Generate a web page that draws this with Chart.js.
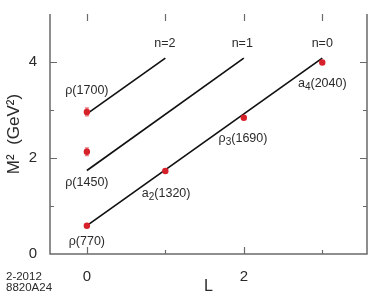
<!DOCTYPE html>
<html>
<head>
<meta charset="utf-8">
<script src="https://cdn.jsdelivr.net/npm/chart.js@4/dist/chart.umd.min.js"></script>
<style>
html,body{margin:0;padding:0;background:#fff;}
#wrap{width:371px;height:299px;position:relative;}
</style>
</head>
<body>
<div id="wrap"><canvas id="c" width="371" height="299"></canvas></div>
<script>
// ---- data ----
const stateBase = ['ρ', 'ρ', 'ρ', 'a', 'ρ', 'a'];
const stateSub = ['', '', '', '2', '3', '4'];
const stateMass = ['(770)', '(1450)', '(1700)', '(1320)', '(1690)', '(2040)'];
const stateL = [0, 0, 0, 1, 2, 3];
const stateM2 = [0.59, 2.13, 2.96, 1.73, 2.84, 3.99];
const stateErr = [0.02, 0.08, 0.08, 0.02, 0.02, 0.02];
// label anchors (data coordinates)
const stateLabelL = [0, 0, 0, 1.01, 1.99, 3.0];
const stateLabelM2 = [0.26, 1.48, 3.40, 1.25, 2.41, 3.55];

const trajNames = ['n=0', 'n=1', 'n=2'];
const trajStartL = [0, 0, 0];
const trajStartM2 = [0.59, 1.74, 2.92];
const trajEndL = [3, 2, 1];
const trajEndM2 = [4.08, 4.08, 4.08];
const trajLabelL = [3.0, 1.98, 0.995];
const trajLabelM2 = 4.38;

const xTicks = [0, 1, 2, 3];
const yTicks = [0, 1, 2, 3, 4];
const xLabelTicks = [0, 2];
const yLabelTicks = [0, 2, 4];

const noteLines = ['2-2012', '8820A24'];

// ---- chart ----
const RED = 'rgb(214,32,42)';
const AXIS = '#6a6a6a';
const TXT = '#2a2a2a';
const FONT = '"Liberation Sans", Arial, Helvetica, sans-serif';

const datasets = [];
for (let i = 0; i < trajNames.length; i++) {
  datasets.push({
    type: 'line',
    label: trajNames[i],
    data: [{x: trajStartL[i], y: trajStartM2[i]}, {x: trajEndL[i], y: trajEndM2[i]}],
    borderColor: '#111',
    borderWidth: 1.7,
    pointRadius: 0,
    fill: false,
    order: 2
  });
}
datasets.push({
  type: 'scatter',
  label: 'states',
  data: stateL.map((l, i) => ({x: l, y: stateM2[i], err: stateErr[i]})),
  backgroundColor: RED,
  borderColor: RED,
  pointRadius: 3.2,
  pointBorderWidth: 0,
  order: 1
});

const errorBars = {
  id: 'errorBars',
  beforeDatasetDraw(chart, args) {
    if (args.index !== 3) return;
    const ctx = chart.ctx, xs = chart.scales.x, ys = chart.scales.y;
    ctx.save();
    ctx.strokeStyle = 'rgba(230,110,115,0.9)';
    ctx.lineWidth = 1.5;
    stateL.forEach((l, i) => {
      const px = xs.getPixelForValue(l);
      const y1 = ys.getPixelForValue(stateM2[i] - stateErr[i]);
      const y2 = ys.getPixelForValue(stateM2[i] + stateErr[i]);
      ctx.beginPath(); ctx.moveTo(px, y1); ctx.lineTo(px, y2); ctx.stroke();
      ctx.beginPath(); ctx.moveTo(px - 2, y1); ctx.lineTo(px + 2, y1);
      ctx.moveTo(px - 2, y2); ctx.lineTo(px + 2, y2); ctx.stroke();
    });
    ctx.restore();
  }
};

const frame = {
  id: 'frame',
  afterDraw(chart) {
    const ctx = chart.ctx, a = chart.chartArea, xs = chart.scales.x, ys = chart.scales.y;
    ctx.save();
    ctx.strokeStyle = AXIS;
    ctx.lineWidth = 1.5;
    ctx.beginPath();
    ctx.moveTo(a.left, a.top); ctx.lineTo(a.left, a.bottom); ctx.lineTo(a.right, a.bottom); ctx.lineTo(a.right, a.top);
    ctx.stroke();
    ctx.lineWidth = 1.2;
    ctx.beginPath();
    xTicks.forEach(v => {
      const px = Math.round(xs.getPixelForValue(v)) + 0.5;
      const len = xLabelTicks.includes(v) ? 7 : 4;
      ctx.moveTo(px, a.bottom); ctx.lineTo(px, a.bottom - len);
      ctx.moveTo(px, a.top); ctx.lineTo(px, a.top + 7);
    });
    yTicks.forEach(v => {
      if (v === 0) return;
      const py = Math.round(ys.getPixelForValue(v)) + 0.5;
      const len = yLabelTicks.includes(v) ? 7 : 4;
      ctx.moveTo(a.left, py); ctx.lineTo(a.left + len, py);
      ctx.moveTo(a.right, py); ctx.lineTo(a.right - len, py);
    });
    ctx.stroke();

    // labels
    ctx.fillStyle = TXT;
    ctx.textBaseline = 'middle';
    const fs = 12.5;
    function drawLabel(base, sub, rest, cx, cy) {
      ctx.font = fs + 'px ' + FONT;
      const wb = ctx.measureText(base).width;
      const wr = ctx.measureText(rest).width;
      ctx.font = (fs * 0.8) + 'px ' + FONT;
      const ws = sub ? ctx.measureText(sub).width : 0;
      let x = cx - (wb + ws + wr) / 2;
      ctx.textAlign = 'left';
      ctx.font = fs + 'px ' + FONT;
      ctx.fillText(base, x, cy); x += wb;
      if (sub) {
        ctx.font = (fs * 0.8) + 'px ' + FONT;
        ctx.fillText(sub, x, cy + 3.5); x += ws;
        ctx.font = fs + 'px ' + FONT;
      }
      ctx.fillText(rest, x, cy);
    }
    stateL.forEach((l, i) => {
      drawLabel(stateBase[i], stateSub[i], stateMass[i],
        xs.getPixelForValue(stateLabelL[i]), ys.getPixelForValue(stateLabelM2[i]));
    });
    trajNames.forEach((n, i) => {
      drawLabel(n, '', '', xs.getPixelForValue(trajLabelL[i]), ys.getPixelForValue(trajLabelM2));
    });
    // note
    ctx.font = '11.5px ' + FONT;
    ctx.textAlign = 'left';
    ctx.fillText(noteLines[0], 6, 277);
    ctx.fillText(noteLines[1], 6, 288);
    ctx.restore();
  }
};

new Chart(document.getElementById('c'), {
  data: {datasets},
  options: {
    responsive: false,
    animation: false,
    layout: {padding: {left: 0, right: 2, top: 0, bottom: 0}},
    plugins: {legend: {display: false}, tooltip: {enabled: false}},
    scales: {
      x: {
        type: 'linear',
        min: -0.47, max: 3.57,
        grid: {display: false},
        border: {display: false},
        afterBuildTicks(s) { s.ticks = xTicks.map(v => ({value: v})); },
        afterFit(s) { s.height = 45; },
        ticks: {
          autoSkip: false, maxRotation: 0, padding: 6,
          color: TXT, font: {family: FONT, size: 15},
          callback: v => xLabelTicks.includes(v) ? String(v) : ''
        },
        title: {display: true, text: 'L', color: TXT, font: {family: FONT, size: 16}, padding: {top: 0, bottom: 3}}
      },
      y: {
        type: 'linear',
        min: 0, max: 5,
        grid: {display: false},
        border: {display: false},
        afterBuildTicks(s) { s.ticks = yTicks.map(v => ({value: v})); },
        afterFit(s) { s.width = 50; },
        ticks: {
          autoSkip: false, padding: 5,
          color: TXT, font: {family: FONT, size: 15},
          callback: v => yLabelTicks.includes(v) ? String(v) : ''
        },
        title: {display: true, text: 'M²  (GeV²)', color: TXT, font: {family: FONT, size: 17}, padding: {top: 4.5, bottom: 0}}
      }
    }
  },
  plugins: [errorBars, frame]
});
</script>
</body>
</html>
